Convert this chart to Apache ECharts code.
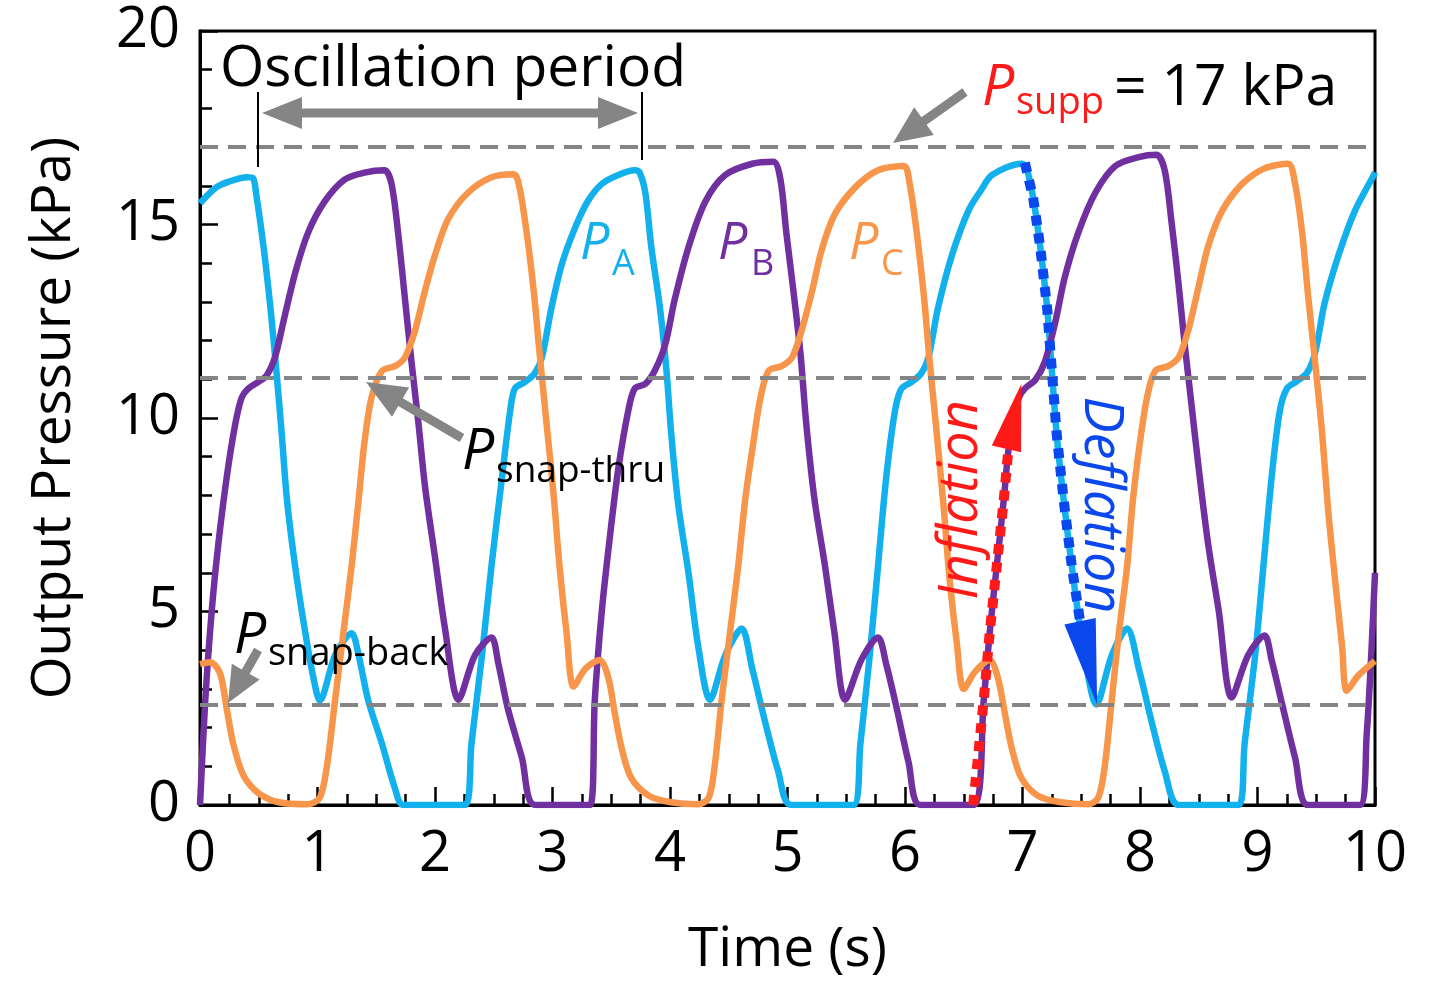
<!DOCTYPE html>
<html>
<head>
<meta charset="utf-8">
<script src="https://cdn.jsdelivr.net/npm/echarts@6/dist/echarts.min.js"></script>
<style>
html, body { margin: 0; padding: 0; background: #fff; }
#main { width: 1432px; height: 981px; }
</style>
</head>
<body>
<div id="main"></div>
<script>
// time (s), pressure (kPa)
var pA = [[0,15.55],[0.13,15.94],[0.24,16.1],[0.40,16.22],[0.45,16.2],[0.48,15.75],[0.54,14.44],[0.60,12.83],[0.65,11.22],[0.695,9.61],[0.74,7.89],[0.81,6.16],[0.89,4.56],[0.965,3.29],[1.02,2.7],[1.15,3.87],[1.29,4.44],[1.35,3.87],[1.43,2.72],[1.55,1.57],[1.66,0.42],[1.73,0],[2.255,0],[2.31,1.57],[2.40,3.87],[2.48,6.16],[2.57,8.46],[2.64,10.19],[2.68,10.76],[2.77,10.94],[2.85,11.16],[2.91,11.57],[2.99,12.83],[3.08,13.98],[3.19,14.9],[3.30,15.6],[3.42,16.05],[3.56,16.28],[3.70,16.4],[3.74,16.35],[3.79,15.82],[3.84,14.44],[3.915,12.83],[3.97,11.22],[4.01,9.61],[4.07,7.77],[4.16,5.94],[4.24,4.1],[4.34,2.72],[4.47,3.87],[4.61,4.56],[4.70,3.52],[4.81,2.14],[4.92,0.88],[5.03,0],[5.56,0],[5.62,1.57],[5.70,3.87],[5.77,6.16],[5.84,8.46],[5.915,10.19],[5.97,10.76],[6.06,10.94],[6.14,11.16],[6.20,11.57],[6.28,12.83],[6.40,14.21],[6.54,15.36],[6.65,15.9],[6.74,16.28],[6.99,16.57],[7.03,16.5],[7.09,15.7],[7.15,14.44],[7.21,12.83],[7.25,11.22],[7.29,9.61],[7.35,7.89],[7.42,6.16],[7.50,4.44],[7.63,2.6],[7.76,3.87],[7.89,4.56],[7.99,3.52],[8.10,2.14],[8.21,0.88],[8.33,0],[8.84,0],[8.89,1.57],[8.98,3.87],[9.05,6.16],[9.12,8.46],[9.19,10.19],[9.25,10.76],[9.33,10.94],[9.42,11.16],[9.49,11.68],[9.57,12.95],[9.69,14.21],[9.83,15.36],[9.99,16.28],[10,16.35]];

var pB = [[0,0],[0.045,2.72],[0.10,5.02],[0.156,6.74],[0.227,8.46],[0.30,9.84],[0.355,10.53],[0.41,10.76],[0.50,10.94],[0.567,11.1],[0.638,11.57],[0.71,12.49],[0.81,13.75],[0.92,14.79],[1.06,15.59],[1.23,16.16],[1.40,16.34],[1.57,16.4],[1.63,16.05],[1.69,14.67],[1.745,13.06],[1.80,11.45],[1.86,9.84],[1.915,8.23],[2.0,6.4],[2.085,4.56],[2.20,2.72],[2.34,3.87],[2.48,4.33],[2.54,3.64],[2.62,2.49],[2.74,1.22],[2.85,0],[3.32,0],[3.36,2.72],[3.42,5.02],[3.49,6.97],[3.56,8.69],[3.645,10.19],[3.70,10.76],[3.79,10.88],[3.87,11.22],[3.96,11.91],[4.04,13.06],[4.16,14.44],[4.30,15.59],[4.47,16.28],[4.70,16.57],[4.88,16.62],[4.94,16.16],[4.99,14.79],[5.05,13.29],[5.11,11.68],[5.16,9.84],[5.23,7.89],[5.32,6.16],[5.40,4.44],[5.49,2.72],[5.63,3.76],[5.77,4.33],[5.84,3.64],[5.93,2.49],[6.03,1.11],[6.13,0],[6.58,0],[6.67,2.71],[6.72,4.43],[6.78,6.15],[6.84,7.87],[6.88,9.16],[6.93,10.1],[6.97,10.53],[7.02,10.76],[7.11,10.99],[7.19,11.45],[7.28,12.49],[7.36,13.64],[7.475,14.79],[7.62,15.82],[7.79,16.51],[7.99,16.74],[8.14,16.8],[8.21,16.4],[8.27,15.02],[8.33,13.41],[8.38,11.91],[8.44,10.3],[8.50,8.69],[8.58,6.74],[8.67,5.02],[8.78,2.78],[8.92,3.87],[9.06,4.38],[9.12,3.75],[9.21,2.6],[9.32,1.22],[9.43,0],[9.87,0],[9.93,1.86],[9.97,4.0],[10,6.0]];

var pC = [[0,3.64],[0.085,3.69],[0.17,3.41],[0.227,2.49],[0.284,1.57],[0.37,0.76],[0.50,0.3],[0.67,0.07],[0.92,0.02],[1.02,0.19],[1.08,1.0],[1.15,2.72],[1.22,4.44],[1.29,6.16],[1.35,7.89],[1.40,9.38],[1.46,10.53],[1.55,11.22],[1.66,11.34],[1.745,11.57],[1.83,12.26],[1.915,13.29],[2.0,14.21],[2.11,15.13],[2.28,15.82],[2.48,16.22],[2.67,16.3],[2.72,15.94],[2.78,14.79],[2.84,13.29],[2.89,11.68],[2.95,9.84],[3.01,8.0],[3.06,6.16],[3.12,4.44],[3.18,3.06],[3.28,3.52],[3.40,3.75],[3.475,3.29],[3.53,2.37],[3.59,1.45],[3.67,0.7],[3.82,0.24],[4.01,0.07],[4.24,0.02],[4.33,0.19],[4.38,1.0],[4.44,2.72],[4.51,4.44],[4.58,6.16],[4.64,7.89],[4.71,9.38],[4.77,10.53],[4.84,11.22],[4.95,11.34],[5.04,11.57],[5.12,12.26],[5.21,13.29],[5.29,14.33],[5.40,15.25],[5.57,15.94],[5.77,16.4],[5.99,16.51],[6.04,16.05],[6.10,14.79],[6.16,13.18],[6.21,11.45],[6.27,9.61],[6.33,7.66],[6.38,5.82],[6.44,4.21],[6.50,3.0],[6.60,3.46],[6.72,3.75],[6.79,3.29],[6.85,2.37],[6.91,1.45],[6.99,0.7],[7.13,0.24],[7.33,0.07],[7.56,0.02],[7.645,0.19],[7.70,1.0],[7.76,2.72],[7.82,4.44],[7.89,6.16],[7.94,7.89],[8.0,9.38],[8.06,10.53],[8.13,11.22],[8.24,11.34],[8.33,11.57],[8.41,12.26],[8.50,13.41],[8.58,14.44],[8.70,15.36],[8.87,16.05],[9.06,16.45],[9.26,16.57],[9.32,16.05],[9.38,14.79],[9.43,13.18],[9.49,11.45],[9.55,9.61],[9.60,7.66],[9.66,5.82],[9.72,4.1],[9.76,2.95],[9.86,3.35],[10,3.72]];

// dotted inflation / deflation paths and the arrow tips
var inflation = [[6.58,0],[6.67,2.71],[6.72,4.43],[6.78,6.15],[6.84,7.87],[6.88,9.2]];
var inflationTip = [6.99, 10.88];
var deflation = [[7.02,16.6],[7.09,15.7],[7.15,14.44],[7.21,12.83],[7.25,11.22],[7.29,9.61],[7.35,7.89],[7.42,6.16],[7.49,4.75]];
var deflationTip = [7.635, 2.6];

// P_supp, P_snap-thru, P_snap-back
var refLevels = [17, 11.05, 2.6];

var xTicks = [0, 10, 1];
var yTicks = [0, 20, 5];

var FONT = '"Open Sans", "Noto Sans", sans-serif';
var colA = '#12b0ec', colB = '#7030a0', colC = '#f7964a';
var gray = '#858585';

var chart = echarts.init(document.getElementById('main'));

function curve(name, data, color) {
    return {
        name: name, type: 'line', data: data, showSymbol: false, symbol: 'none',
        smooth: 0.3,
        lineStyle: {color: color, width: 6.5, join: 'round'},
        z: 3, silent: true
    };
}

var option = {
    animation: false,
    backgroundColor: '#fff',
    grid: {
        left: 200, top: 31, width: 1175, height: 774, show: true, borderColor: '#000', borderWidth: 3,
        containLabel: false, outerBoundsMode: 'none'
    },
    xAxis: {
        type: 'value', min: xTicks[0], max: xTicks[1], interval: xTicks[2],
        name: 'Time (s)', nameLocation: 'middle', nameGap: 118,
        nameTextStyle: {fontSize: 55, color: '#000', fontFamily: FONT},
        axisLine: {lineStyle: {color: '#000', width: 3}},
        axisTick: {inside: true, length: 18, lineStyle: {color: '#000', width: 2.5}},
        minorTick: {show: true, splitNumber: 4, length: 11, lineStyle: {color: '#000', width: 2.5}},
        axisLabel: {fontSize: 56, color: '#000', fontFamily: FONT, margin: 22},
        splitLine: {show: false}
    },
    yAxis: {
        type: 'value', min: yTicks[0], max: yTicks[1], interval: yTicks[2],
        name: 'Output Pressure (kPa)', nameLocation: 'middle', nameGap: 118,
        nameTextStyle: {fontSize: 55, color: '#000', fontFamily: FONT},
        axisLine: {lineStyle: {color: '#000', width: 3}},
        axisTick: {inside: true, length: 18, lineStyle: {color: '#000', width: 2.5}},
        minorTick: {show: true, splitNumber: 5, length: 12, lineStyle: {color: '#000', width: 2.5}},
        axisLabel: {fontSize: 56, color: '#000', fontFamily: FONT, margin: 20},
        splitLine: {show: false}
    },
    series: [
        curve('PA', pA, colA),
        curve('PB', pB, colB),
        curve('PC', pC, colC),
        {
            name: 'levels', type: 'line', data: [], z: 4, silent: true,
            markLine: {
                silent: true, symbol: ['none', 'none'], label: {show: false},
                lineStyle: {color: gray, width: 4, type: [18, 10]},
                data: refLevels.map(function (v) { return {yAxis: v}; })
            }
        },
        {
            name: 'Inflation', type: 'line', data: inflation, symbol: 'none', z: 5, silent: true,
            lineStyle: {color: '#ff1a1a', width: 10, type: [10, 8], cap: 'butt'}
        },
        {
            name: 'Deflation', type: 'line', data: deflation, symbol: 'none', z: 5, silent: true,
            lineStyle: {color: '#0a48ee', width: 10, type: [10, 8], cap: 'butt'}
        }
    ]
};
chart.setOption(option);

function px(p) { return chart.convertToPixel({gridIndex: 0}, p); }

// arrow polygon from (x1,y1) to tip (x2,y2)
function arrowPts(x1, y1, x2, y2, sw, hl, hw) {
    var dx = x2 - x1, dy = y2 - y1, L = Math.sqrt(dx * dx + dy * dy);
    var ux = dx / L, uy = dy / L, nx = -uy, ny = ux;
    var bx = x2 - ux * hl, by = y2 - uy * hl;
    return [[x1 + nx * sw / 2, y1 + ny * sw / 2], [bx + nx * sw / 2, by + ny * sw / 2],
            [bx + nx * hw / 2, by + ny * hw / 2], [x2, y2],
            [bx - nx * hw / 2, by - ny * hw / 2], [bx - nx * sw / 2, by - ny * sw / 2],
            [x1 - nx * sw / 2, y1 - ny * sw / 2]];
}
function headPts(base, tip, hw) {
    var dx = tip[0] - base[0], dy = tip[1] - base[1], L = Math.sqrt(dx * dx + dy * dy);
    var nx = -dy / L, ny = dx / L;
    return [[base[0] + nx * hw / 2, base[1] + ny * hw / 2], tip, [base[0] - nx * hw / 2, base[1] - ny * hw / 2]];
}
function poly(points, color) {
    return {type: 'polygon', shape: {points: points}, style: {fill: color}, z: 100, silent: true};
}
// text placed by its baseline
function txt(x, base, s, size, color, italic) {
    return {
        type: 'text', x: x, y: base - 0.775 * size, z: 110, silent: true,
        style: {
            text: s, fill: color, fontSize: size, fontFamily: FONT,
            fontStyle: italic ? 'italic' : 'normal',
            textAlign: 'left', align: 'left', textVerticalAlign: 'top', verticalAlign: 'top'
        }
    };
}
// rotated text placed by its centre
function vtxt(cx, cy, s, size, color, rot) {
    return {
        type: 'text', x: cx, y: cy, rotation: rot, z: 110, silent: true,
        style: {
            text: s, fill: color, fontSize: size, fontFamily: FONT, fontStyle: 'italic',
            textAlign: 'center', align: 'center', textVerticalAlign: 'middle', verticalAlign: 'middle'
        }
    };
}

var infBase = px(inflation[inflation.length - 1]), infTip = px(inflationTip);
var defBase = px(deflation[deflation.length - 1]), defTip = px(deflationTip);

// oscillation period double arrow
var dbl = (function () {
    var y = 113, xl = 262, xr = 638, sw = 9, hl = 40, hw = 32;
    return [[xl, y], [xl + hl, y - hw / 2], [xl + hl, y - sw / 2], [xr - hl, y - sw / 2], [xr - hl, y - hw / 2],
            [xr, y], [xr - hl, y + hw / 2], [xr - hl, y + sw / 2], [xl + hl, y + sw / 2], [xl + hl, y + hw / 2]];
})();

chart.setOption({
    graphic: [
        poly(headPts([infBase[0] - 2, infBase[1]], infTip, 30), '#ff1a1a'),
        poly(headPts(defBase, defTip, 32), '#0a48ee'),
        poly(dbl, gray),
        {type: 'line', shape: {x1: 258, y1: 92, x2: 258, y2: 167}, style: {stroke: '#000', lineWidth: 2}, z: 100},
        {type: 'line', shape: {x1: 642, y1: 92, x2: 642, y2: 160}, style: {stroke: '#000', lineWidth: 2}, z: 100},
        poly(arrowPts(965, 92, 893, 143, 9, 38, 34), gray),
        poly(arrowPts(462, 438, 366, 382, 9, 40, 34), gray),
        poly(arrowPts(258, 650, 228, 703, 9, 36, 32), gray),

        txt(220, 85, 'Oscillation period', 57, '#000', false),
        txt(982, 104, 'P', 57, '#ff1a1a', true),
        txt(1016, 114, 'supp', 38, '#ff1a1a', false),
        txt(1114, 104, '= 17 kPa', 57, '#000', false),

        txt(580, 258, 'P', 52, colA, true),
        txt(612, 275, 'A', 36, colA, false),
        txt(718, 258, 'P', 52, colB, true),
        txt(751, 275, 'B', 36, colB, false),
        txt(849, 258, 'P', 52, colC, true),
        txt(881, 275, 'C', 36, colC, false),

        txt(462, 468, 'P', 57, '#000', true),
        txt(496, 482, 'snap-thru', 37, '#000', false),
        txt(234, 652, 'P', 57, '#000', true),
        txt(268, 665, 'snap-back', 38, '#000', false),

        vtxt(962, 500, 'Inflation', 54, '#ff1a1a', Math.PI / 2),
        vtxt(1100, 505, 'Deflation', 54, '#0a48ee', -Math.PI / 2)
    ]
});
</script>
</body>
</html>
